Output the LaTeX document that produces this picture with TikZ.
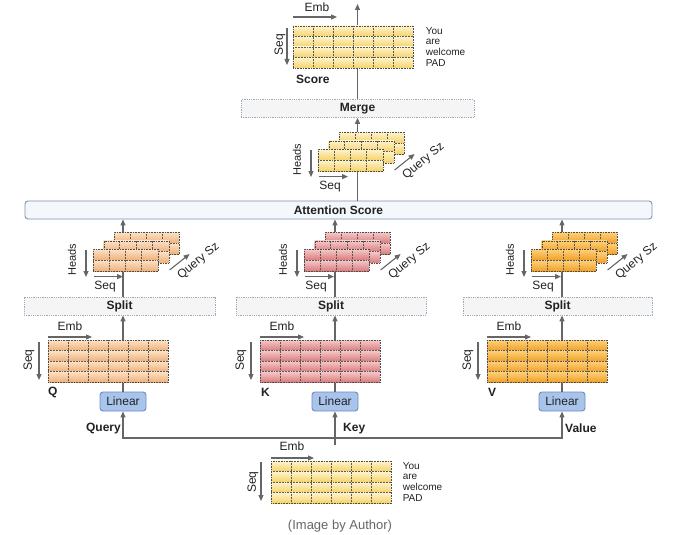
\documentclass[tikz,border=0pt]{standalone}
\usepackage{fontspec}
\setmainfont{Liberation Sans}
\usetikzlibrary{arrows.meta,positioning,calc}

\definecolor{arrgray}{HTML}{666666}
\definecolor{txtdark}{HTML}{222222}
\definecolor{linfill}{HTML}{A9C4EB}
\definecolor{linedge}{HTML}{6C8EBF}
\definecolor{boxfill}{HTML}{F5F5F5}
\definecolor{boxedge}{HTML}{9AAABF}
\definecolor{attfill}{HTML}{F4F7FC}
\definecolor{attedge}{HTML}{7D93B5}

\tikzset{
  arr/.style={draw=arrgray, line width=1.1pt, -{Triangle[length=6pt,width=5pt]}},
  celline/.style={draw=black!65, densely dotted, line width=0.55pt},
  matframe/.style={draw=black!70, densely dotted, line width=0.6pt, inner sep=0pt},
  yelrow/.style={top color={rgb,255:red,255;green,244;blue,205}, bottom color={rgb,255:red,245;green,210;blue,105}},
  qrow/.style={top color={rgb,255:red,253;green,227;blue,200}, bottom color={rgb,255:red,240;green,176;blue,122}},
  krow/.style={top color={rgb,255:red,246;green,202;blue,202}, bottom color={rgb,255:red,217;green,124;blue,126}},
  vrow/.style={top color={rgb,255:red,255;green,210;blue,122}, bottom color={rgb,255:red,240;green,160;blue,42}},
  lbl/.style={font=\fontsize{12}{14}\selectfont, text=txtdark, inner sep=0pt},
  bold/.style={font=\fontsize{12}{14}\selectfont\bfseries, text=txtdark, inner sep=0pt},
  word/.style={font=\fontsize{10}{12}\selectfont, text=txtdark, inner sep=0pt, anchor=west},
  linbox/.style={draw=linedge, fill=linfill, rounded corners=3pt, line width=0.9pt,
    minimum width=46, minimum height=19, inner sep=0pt, font=\fontsize{12}{14}\selectfont, text=txtdark},
  splitbox/.style={draw=boxedge, fill=boxfill, densely dotted, line width=0.8pt,
    minimum height=18, inner sep=0pt, font=\fontsize{12}{14}\selectfont\bfseries, text=txtdark},
  attbox/.style={draw=attedge, fill=attfill, rounded corners=3pt, line width=0.9pt,
    minimum height=18, inner sep=0pt, font=\fontsize{12}{14}\selectfont\bfseries, text=txtdark},
}

% token matrix: name, left, top, row colours (6 x 4 cells)
\newcommand{\tokmat}[4]{%
  \foreach \rr in {0,...,3}
    \shade[#4] (#2,{#3+\rr*10.5}) rectangle ++(120,10.5);
  \foreach \cc in {1,...,5}
    \draw[celline] ({#2+\cc*20},#3) -- ++(0,42);
  \foreach \rr in {1,...,3}
    \draw[celline] (#2,{#3+\rr*10.5}) -- ++(120,0);
  \node[matframe, minimum width=120, minimum height=42, anchor=north west] (#1) at (#2,#3) {};
}

% Emb / Seq axes of a token matrix
\newcommand{\tokaxes}[1]{%
  \node[lbl] (#1-emb) at ([shift={(22,-14)}]#1.north west) {Emb};
  \draw[arr] ([shift={(0,-3)}]#1.north west) -- ++(44,0);
  \node[lbl, rotate=90] (#1-seq) at ([shift={(-19,20)}]#1.north west) {Seq};
  \draw[arr] ([shift={(-9,2)}]#1.north west) -- ++(0,38);
}

% one head matrix: name, left, top, row colours (4 x 2 cells)
\newcommand{\headmat}[4]{%
  \foreach \rr in {0,1}
    \shade[#4] (#2,{#3+\rr*11}) rectangle ++(65,11);
  \foreach \cc in {1,2,3}
    \draw[celline] ({#2+\cc*16.25},#3) -- ++(0,22);
  \draw[celline] (#2,{#3+11}) -- ++(65,0);
  \node[matframe, minimum width=65, minimum height=22, anchor=north west] (#1) at (#2,#3) {};
}

% stack of heads: name, left, top of front matrix, row colours
\newcommand{\headstack}[4]{%
  \headmat{#1-3}{#2+21}{#3-17}{#4}
  \headmat{#1-2}{#2+10.5}{#3-8.5}{#4}
  \headmat{#1-1}{#2}{#3}{#4}
  \node[lbl, font=\fontsize{11}{13}\selectfont, rotate=90] (#1-heads) at ([shift={(-21,11)}]#1-1.north west) {Heads};
  \draw[arr] ([shift={(-7,1)}]#1-1.north west) -- ++(0,27);
  \node[lbl] (#1-seq) at ([shift={(12,15)}]#1-1.south west) {Seq};
  \draw[arr] ([shift={(1,5)}]#1-1.south west) -- ++(29,0);
  \node[lbl, rotate=40] (#1-qsz) at ([shift={(40,12)}]#1-1.north east) {Query Sz};
  \draw[arr] ([shift={(11,21)}]#1-1.north east) -- ++(20,-16);
}

\begin{document}
\begin{tikzpicture}[x=1pt, y=-1pt]
  \fill[white] (0,0) rectangle (680,535);
  \useasboundingbox (0,0) rectangle (680,535);

  % boxes
  \node[attbox, minimum width=627] (att) at (338.5,210) {Attention Score};
  \node[splitbox, minimum width=233] (mg) at (357.5,108.5) {Merge};
  \node[splitbox, minimum width=191] (sq) at (119.5,306) {Split};
  \node[splitbox, minimum width=190] (sk) at (331,306) {Split};
  \node[splitbox, minimum width=189] (sv) at (557.5,306) {Split};
  \node[linbox] (lq) at (123,401.5) {Linear};
  \node[linbox] (lk) at (335,401.5) {Linear};
  \node[linbox] (lv) at (562,401.5) {Linear};
  \coordinate (out) at (357.5,4);
  \coordinate (tap) at (335,445);
  \coordinate (bus) at (335,438);

  % connectors
  \draw[arr] (tap) -- (lk.south);
  \draw[arr] (bus) -| (lq.south);
  \draw[arr] (bus) -| (lv.south);
  \draw[arr] (lq.north) -- (lq.north |- sq.south);
  \draw[arr] (lk.north) -- (lk.north |- sk.south);
  \draw[arr] (lv.north) -- (lv.north |- sv.south);
  \draw[arr] (lq.north |- sq.north) -- (lq.north |- att.south);
  \draw[arr] (lk.north |- sk.north) -- (lk.north |- att.south);
  \draw[arr] (lv.north |- sv.north) -- (lv.north |- att.south);
  \draw[arr] (mg.south |- att.north) -- (mg.south);
  \draw[arr] (mg.north) -- (out);

  \node[bold, anchor=east] (query) at ([shift={(-2,17)}]lq.south) {Query};
  \node[bold, anchor=west] (key) at ([shift={(8,17)}]lk.south) {Key};
  \node[bold, anchor=west] (value) at ([shift={(3,17)}]lv.south) {Value};

  % input
  \tokmat{inp}{271}{461}{yelrow}
  \node[lbl] (inp-emb) at ([shift={(21,-15)}]inp.north west) {Emb};
  \draw[arr] ([shift={(0,-3)}]inp.north west) -- ++(43,0);
  \node[lbl, rotate=90] (inp-seq) at ([shift={(-18,21)}]inp.north west) {Seq};
  \draw[arr] ([shift={(-10,1)}]inp.north west) -- ++(0,39);
  \foreach \w [count=\i from 0] in {You,are,welcome,PAD}
    \node[word] (inp-w\i) at ([shift={(11,{5.25+\i*10.5})}]inp.north east) {\w};

  % Q, K, V
  \tokmat{qm}{48}{340}{qrow}
  \tokmat{km}{260}{340}{krow}
  \tokmat{vm}{487}{340}{vrow}
  \tokaxes{qm}
  \tokaxes{km}
  \tokaxes{vm}
  \node[bold, anchor=west] (qlab) at ([shift={(0,10)}]qm.south west) {Q};
  \node[bold, anchor=west] (klab) at ([shift={(1,10)}]km.south west) {K};
  \node[bold, anchor=west] (vlab) at ([shift={(1,10)}]vm.south west) {V};

  % heads
  \headstack{qh}{93}{249}{qrow}
  \headstack{kh}{304}{249}{krow}
  \headstack{vh}{531}{249}{vrow}
  \headstack{mh}{318}{149}{yelrow}

  % score
  \tokmat{sc}{293}{26}{yelrow}
  \node[lbl] (sc-emb) at ([shift={(24,-18.5)}]sc.north west) {Emb};
  \draw[arr] ([shift={(0,-9)}]sc.north west) -- ++(44,0);
  \node[lbl, rotate=90] (sc-seq) at ([shift={(-13,19)}]sc.north west) {Seq};
  \draw[arr] ([shift={(-6,2)}]sc.north west) -- ++(0,37);
  \foreach \w [count=\i from 0] in {You,are,welcome,PAD}
    \node[word] (sc-w\i) at ([shift={(12,{5.25+\i*10.5})}]sc.north east) {\w};
  \node[bold, anchor=west] (sclab) at ([shift={(3,11)}]sc.south west) {Score};

  \node[font=\fontsize{13}{15}\selectfont, text=black!60] (credit) at (340,526) {(Image by Author)};
\end{tikzpicture}
\end{document}
